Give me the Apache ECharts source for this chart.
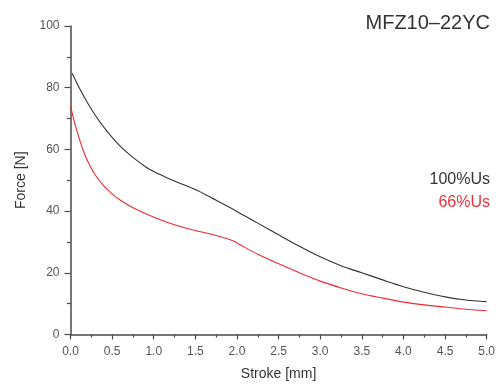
<!DOCTYPE html>
<html>
<head>
<meta charset="utf-8">
<script src="https://cdn.jsdelivr.net/npm/echarts@6/dist/echarts.min.js"></script>
<style>
html,body{margin:0;padding:0;background:#fff;}
#chart{width:498px;height:389px;}
</style>
</head>
<body>
<div id="chart"></div>
<script>
const chartTitle = 'MFZ10–22YC';
const xAxisName = 'Stroke [mm]';
const yAxisName = 'Force [N]';
const seriesNames = ['100%Us', '66%Us'];

const strokeFull = [0.02, 0.1, 0.2, 0.3, 0.4, 0.5, 0.6, 0.75, 0.9, 1.0, 1.15, 1.3, 1.5, 1.75, 2.0, 2.25, 2.5, 2.75, 3.0, 3.25, 3.5, 3.75, 4.0, 4.25, 4.5, 4.75, 5.0];
const forceFull  = [84.7, 80.2, 75.3, 71.0, 67.2, 63.9, 61.0, 57.4, 54.4, 52.8, 50.9, 49.2, 47.0, 43.5, 39.9, 36.1, 32.3, 28.6, 25.2, 22.3, 20.0, 17.7, 15.5, 13.7, 12.2, 11.2, 10.6];

const strokeLow = [0, 0.05, 0.1, 0.15, 0.2, 0.3, 0.4, 0.5, 0.6, 0.75, 0.9, 1.0, 1.25, 1.5, 1.75, 1.95, 2.05, 2.25, 2.5, 2.75, 3.0, 3.25, 3.5, 3.75, 4.0, 4.25, 4.5, 4.75, 5.0];
const forceLow  = [74.0, 68.6, 64.0, 59.9, 56.6, 51.6, 48.2, 45.6, 43.5, 41.1, 39.2, 38.0, 35.6, 33.7, 32.1, 30.4, 28.9, 26.0, 22.9, 20.0, 17.3, 15.1, 13.2, 11.8, 10.5, 9.6, 8.9, 8.2, 7.7];

const pair = (xs, ys) => xs.map((x, i) => [x, ys[i]]);

const axisColor = '#4a4a4a';
const labelColor = '#555';
const font = '"Liberation Sans", Arial, Helvetica, sans-serif';

const chart = echarts.init(document.getElementById('chart'), null, {renderer: 'canvas'});
chart.setOption({
  animation: false,
  backgroundColor: '#fff',
  textStyle: {fontFamily: font},
  title: [
    {text: chartTitle, right: 3, top: 8, textStyle: {fontSize: 20, fontWeight: 'normal', color: '#333', fontFamily: font}},
    {text: seriesNames[0], right: 3, top: 167, textStyle: {fontSize: 16, fontWeight: 'normal', color: '#333', fontFamily: font}},
    {text: seriesNames[1], right: 3, top: 190, textStyle: {fontSize: 16, fontWeight: 'normal', color: '#e8323c', fontFamily: font}}
  ],
  grid: {left: 70.5, right: 8.7, top: 26, bottom: 54.5, containLabel: false},
  xAxis: {
    type: 'value', min: 0, max: 5, interval: 0.5,
    name: xAxisName, nameLocation: 'middle', nameGap: 33,
    nameTextStyle: {fontSize: 14, color: '#333', fontFamily: font},
    axisLine: {show: true, lineStyle: {color: axisColor, width: 1.5}},
    axisTick: {show: true, length: 5, lineStyle: {color: axisColor, width: 1.2}},
    minorTick: {show: true, splitNumber: 2, length: 3, lineStyle: {color: axisColor, width: 1.2}},
    axisLabel: {fontSize: 12, color: labelColor, margin: 11, formatter: v => v.toFixed(1)},
    splitLine: {show: false}
  },
  yAxis: {
    type: 'value', min: 0, max: 100, interval: 20,
    name: yAxisName, nameLocation: 'middle', nameGap: 33, nameRotate: 90,
    nameTextStyle: {fontSize: 14, color: '#333', fontFamily: font},
    axisLine: {show: true, lineStyle: {color: axisColor, width: 1.5}},
    axisTick: {show: true, length: 6, lineStyle: {color: axisColor, width: 1.2}},
    minorTick: {show: true, splitNumber: 2, length: 3.5, lineStyle: {color: axisColor, width: 1.2}},
    axisLabel: {fontSize: 12, color: labelColor, margin: 11},
    splitLine: {show: false}
  },
  series: [
    {name: seriesNames[0], type: 'line', data: pair(strokeFull, forceFull), showSymbol: false, smooth: 0.3,
     lineStyle: {color: '#333', width: 1.1}, itemStyle: {color: '#333'}},
    {name: seriesNames[1], type: 'line', data: pair(strokeLow, forceLow), showSymbol: false, smooth: 0.3,
     lineStyle: {color: '#ee2b33', width: 1.1}, itemStyle: {color: '#ee2b33'}}
  ]
});
</script>
</body>
</html>
